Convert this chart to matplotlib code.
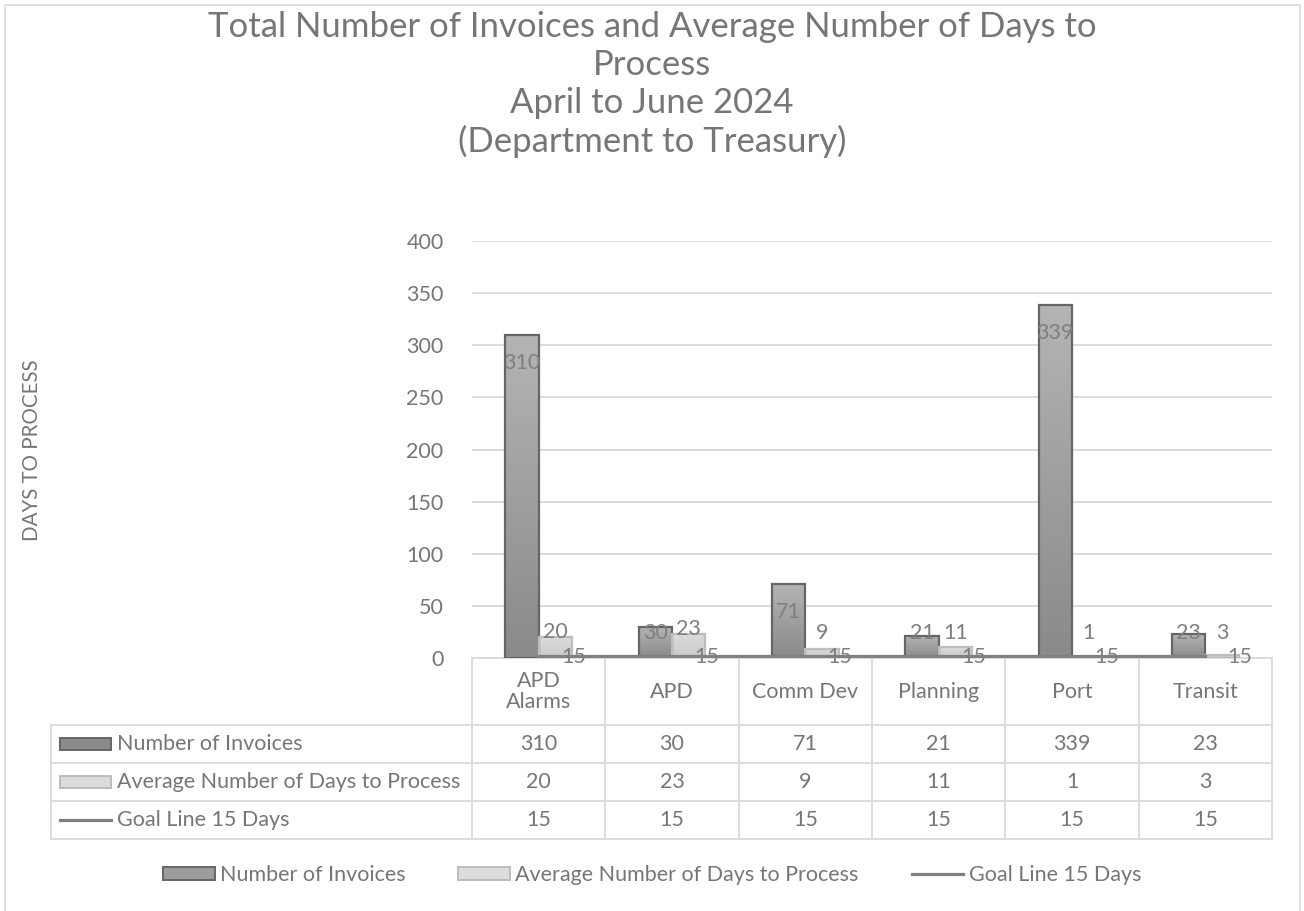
import numpy as np
import matplotlib.pyplot as plt
from matplotlib.patches import Rectangle, Patch
from matplotlib.lines import Line2D
from matplotlib.colors import LinearSegmentedColormap

departments = ['APD\nAlarms', 'APD', 'Comm Dev', 'Planning', 'Port', 'Transit']
invoices = [310, 30, 71, 21, 339, 23]
avg_days = [20, 23, 9, 11, 1, 3]
goal = [15, 15, 15, 15, 15, 15]
series_names = ['Number of Invoices', 'Average Number of Days to Process', 'Goal Line 15 Days']
title_lines = ['Total Number of Invoices and Average Number of Days to', 'Process',
               'April to June 2024', '(Department to Treasury)']
yticks = [0, 50, 100, 150, 200, 250, 300, 350, 400]

W, H = 1304, 911
TXT = '#767676'
GRID = '#d9d9d9'
DARK = ('#b4b4b4', '#8a8a8a', '#666666')   # top, bottom, edge
LIGHT = ('#dcdcdc', '#c9c9c9', '#bdbdbd')
LINEC = '#808080'
FS = 15.5

plt.rcParams['font.family'] = ['Lato', 'DejaVu Sans']
fig = plt.figure(figsize=(W / 100, H / 100), dpi=100)

# background layer in pixel coords (border, table grid)
bg = fig.add_axes([0, 0, 1, 1])
bg.set_xlim(0, W)
bg.set_ylim(H, 0)
bg.axis('off')
bg.plot([5, 5, 1300, 1300], [H, 5, 5, H], color=GRID, lw=1.2)

ax = fig.add_axes([472 / W, 1 - 658 / H, 800 / W, 417 / H])
n = len(departments)
ind = np.arange(n)
width = 0.25


def gradient_bars(bars, cols):
    grad = np.linspace(0, 1, 64).reshape(-1, 1)
    cmap = LinearSegmentedColormap.from_list('g', [cols[1], cols[0]])
    for b in bars:
        x0, y0 = b.get_xy()
        im = ax.imshow(grad, cmap=cmap, origin='lower', aspect='auto', zorder=2,
                       extent=[x0, x0 + b.get_width(), y0, y0 + b.get_height()])
        im.set_clip_path(b)
        b.set_facecolor('none')
        b.set_edgecolor(cols[2])


b1 = ax.bar(ind - width / 2, invoices, width, lw=1.6, zorder=3)
b2 = ax.bar(ind + width / 2, avg_days, width, lw=1.6, zorder=3)
gradient_bars(b1, DARK)
gradient_bars(b2, LIGHT)

# data labels
for i in range(n):
    ax.text(ind[i] - width / 2, max(invoices[i] - 27, 24), str(invoices[i]),
            ha='center', va='center', fontsize=FS, color='#7f7f7f', zorder=5)
    ax.text(ind[i] + width / 2, max(avg_days[i] + 5, 24), str(avg_days[i]),
            ha='center', va='center', fontsize=FS, color='#7f7f7f', zorder=5)

# goal line on a hidden secondary axis
ax2 = ax.twinx()
ax2.set_ylim(0, 3000)
ax2.axis('off')
ax2.plot(ind, goal, color=LINEC, lw=2.3, zorder=4)
for i in range(n):
    ax2.annotate(str(goal[i]), (ind[i], goal[i]), xytext=(25, -1), textcoords='offset points',
                 ha='center', va='center', fontsize=FS, color='#7f7f7f')

ax.set_xlim(-0.5, n - 0.5)
ax.set_ylim(0, 400)
ax.set_yticks(yticks)
ax.yaxis.grid(True, color=GRID, lw=1.3)
ax.set_axisbelow(True)
ax.set_xticks([])
ax.tick_params(left=False, right=False, labelsize=FS, labelcolor=TXT, pad=17)
for s in ax.spines.values():
    s.set_visible(False)

# title and axis label
for k, t in enumerate(title_lines):
    fig.text(652 / W, 1 - (27 + 38 * k) / H, t, ha='center', va='center', fontsize=25, color=TXT)
fig.text(32 / W, 1 - 450 / H, 'DAYS TO PROCESS', rotation=90, ha='center', va='center',
         fontsize=14.8, color=TXT)

# data table
xb = [472 + 800 / n * k for k in range(n + 1)]
rows = [658, 725, 763, 801, 839]
bg.plot([472, 1272], [rows[0], rows[0]], color=GRID, lw=1.3, zorder=0)
for y in rows[1:]:
    bg.plot([51, 1272], [y, y], color=GRID, lw=1.3)
for x in xb:
    bg.plot([x, x], [rows[0], rows[-1]], color=GRID, lw=1.3)
bg.plot([51, 51], [rows[1], rows[-1]], color=GRID, lw=1.3)

for i in range(n):
    xc = (xb[i] + xb[i + 1]) / 2
    bg.text(xc, (rows[0] + rows[1]) / 2, departments[i], ha='center', va='center',
            fontsize=FS, color=TXT, linespacing=1.05)
    for r, vals in enumerate([invoices, avg_days, goal]):
        bg.text(xc, (rows[r + 1] + rows[r + 2]) / 2, str(vals[i]), ha='center', va='center',
                fontsize=FS, color=TXT)

keys = [DARK, LIGHT]
for r, name in enumerate(series_names):
    yc = (rows[r + 1] + rows[r + 2]) / 2
    if r < 2:
        bg.add_patch(Rectangle((60, yc - 6), 51, 12, facecolor=keys[r][1] if r == 0 else keys[r][0],
                               edgecolor=keys[r][2], lw=1.4))
    else:
        bg.plot([60, 111], [yc, yc], color=LINEC, lw=2.3)
    bg.text(117, yc, name, ha='left', va='center', fontsize=FS, color=TXT)

# legend
handles = [Patch(facecolor='#9c9c9c', edgecolor=DARK[2], lw=1.4),
           Patch(facecolor=LIGHT[0], edgecolor=LIGHT[2], lw=1.4),
           Line2D([], [], color=LINEC, lw=2.3)]
fig.legend(handles, series_names, loc='center', bbox_to_anchor=(652 / W, 1 - 875 / H), ncol=3,
           frameon=False, fontsize=FS, labelcolor=TXT, handlelength=2.4, handleheight=0.55,
           handletextpad=0.25, columnspacing=2.45)

fig.savefig('out.png', dpi=100)
